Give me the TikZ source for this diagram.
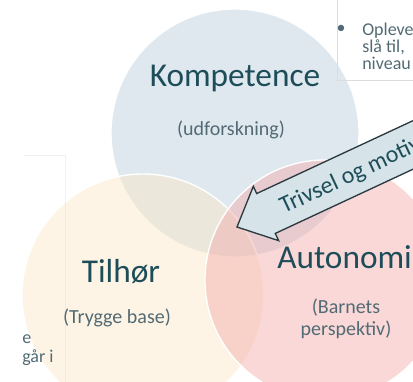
\documentclass[tikz,border=0pt]{standalone}
\usepackage{fontspec}
\setmainfont{Carlito}
\usepackage{xcolor}
\usepackage{tikz}
\usetikzlibrary{calc}

\definecolor{kompfill}{HTML}{B7CDD9}
\definecolor{tilfill}{HTML}{FBE7C5}
\definecolor{autofill}{HTML}{F3A9A9}
\definecolor{headtext}{HTML}{1E4D5A}
\definecolor{subtext}{HTML}{526A73}
\definecolor{arrowfill}{HTML}{D6E4EA}
\definecolor{arrowline}{HTML}{2B3A40}
\definecolor{boxline}{HTML}{DCDCDC}

\tikzset{
	circ/.style={draw=white,line width=1pt,fill opacity=.45},
	head/.style={text=headtext,font=\fontsize{25}{30}\selectfont,inner sep=0pt,anchor=base},
	sub/.style={text=subtext,font=\fontsize{15}{16.5}\selectfont,inner sep=0pt,anchor=base},
	side/.style={text=subtext,font=\fontsize{13.5}{16}\selectfont,inner sep=0pt,anchor=base west},
}

\begin{document}
\begin{tikzpicture}[x=0.75pt,y=-0.75pt]
	\useasboundingbox (0,0) rectangle (413,381);
	\clip (0,0) rectangle (413,381);
	
	% the three circles
	\draw[circ,fill=kompfill] (235,133) circle (124);
	\draw[circ,fill=tilfill] (143,295) circle (121);
	\draw[circ,fill=autofill] (325,280) circle (120);
	
	% side boxes
	\draw[boxline] (337,-2)--(337,80)--(415,80);
	\draw[boxline,opacity=.4] (24,155)--(65,155)--(65,383);
	
	\node[side,anchor=center] (bul) at (341,29) {\textbullet};
	\foreach \y/\t [count=\i] in {36/Opleve,53/{slå til,},70/niveau}
		\node[side] (opl\i) at (362,\y) {\t};
	\node[side] (left1) at (22,343) {e};
	\node[side] (left2) at (22,362) {går i};
	
	% labels
	\node[head] (komp) at (235,87) {Kompetence};
	\node[sub] (kompsub) at (231,135) {(udforskning)};
	\node[head] (tilhor) at (121,282) {Tilhør};
	\node[sub] (tilhorsub) at (117,323) {(Trygge base)};
	\node[head,anchor=base west] (auto) at (277,268) {Autonomi};
	\node[sub] (autosub1) at (346,313) {(Barnets};
	\node[sub] (autosub2) at (346,335) {perspektiv)};
	
	% block arrow
	\begin{scope}[shift={(237,227)},rotate=25]
		\draw[arrowline,fill=arrowfill,line width=1pt,line join=miter]
		(0,0)--(32,-30)--(32,-22)--(260,-22)--(260,22)--(32,22)--(32,30)--cycle;
		\node[text=headtext,font=\fontsize{18}{20}\selectfont,inner sep=0pt,
			anchor=base west,rotate=25] (trivsel) at (48,8) {Trivsel og motiv};
	\end{scope}
\end{tikzpicture}
\end{document}
